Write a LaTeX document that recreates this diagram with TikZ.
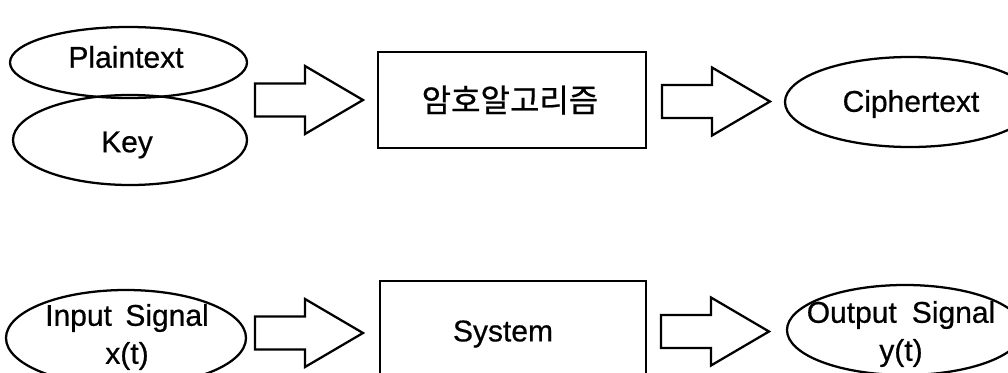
\documentclass[tikz,border=0pt]{standalone}
\usepackage{fontspec}
\setmainfont{Liberation Sans}[UprightFeatures={FakeBold=0.6}]
\newfontfamily\kofont{Noto Sans CJK KR}[UprightFeatures={FakeBold=0.6}]
\usetikzlibrary{shapes.geometric}
\tikzset{
  px/.style={x=0.75pt,y=-0.75pt},
  shapeline/.style={draw=black,line width=1.7pt,line join=miter},
  oval/.style={shapeline,ellipse,inner sep=0pt},
  label text/.style={font=\fontsize{22.5}{28.5}\selectfont,align=center,inner sep=0pt},
  pics/blockarrow/.style={code={
    \draw[shapeline] (0,-16.5) -- (50,-16.5) -- (50,-34) -- (108,0) -- (50,34) -- (50,16.5) -- (0,16.5) -- cycle;
  }}
}
\begin{document}
\begin{tikzpicture}[px]
\useasboundingbox (0,0) rectangle (1008,372);
\clip (0,0) rectangle (1008,372);
\fill[white] (0,0) rectangle (1008,372);
% top row
\node[oval,minimum width=237*0.75pt,minimum height=71*0.75pt] (plain) at (128.5,62.5) {};
\node[oval,minimum width=234*0.75pt,minimum height=90*0.75pt] (key) at (130,140) {};
\node[label text] (plaintxt) at (126,57) {Plaintext};
\node[label text] (keytxt) at (127,145) {Key};
\pic at (255,100) {blockarrow};
\node[shapeline,rectangle,minimum width=268*0.75pt,minimum height=96*0.75pt,inner sep=0pt] (algo) at (512,100) {};
\node[label text,font=\kofont\fontsize{24}{28}\selectfont] (algotxt) at (510,100) {암호알고리즘};
\pic at (662,101.5) {blockarrow};
\node[oval,minimum width=250*0.75pt,minimum height=90*0.75pt] (cipher) at (910,102) {};
\node[label text] (ciphertxt) at (911,104) {Ciphertext};
% bottom row
\node[oval,minimum width=240*0.75pt,minimum height=96*0.75pt] (input) at (126,338) {};
\node[label text] (inputtxt) at (127,337) {Input\hspace{0.45em}Signal\\x(t)};
\pic at (255,333) {blockarrow};
\node[shapeline,rectangle,minimum width=266*0.75pt,minimum height=200*0.75pt,inner sep=0pt] (system) at (513,381) {};
\node[label text] (systemtxt) at (503,334) {System};
\pic at (661,331.5) {blockarrow};
\node[oval,minimum width=236*0.75pt,minimum height=90*0.75pt] (output) at (905,330) {};
\node[label text] (outputtxt) at (901,334) {Output\hspace{0.5em}Signal\\y(t)};
\end{tikzpicture}
\end{document}
